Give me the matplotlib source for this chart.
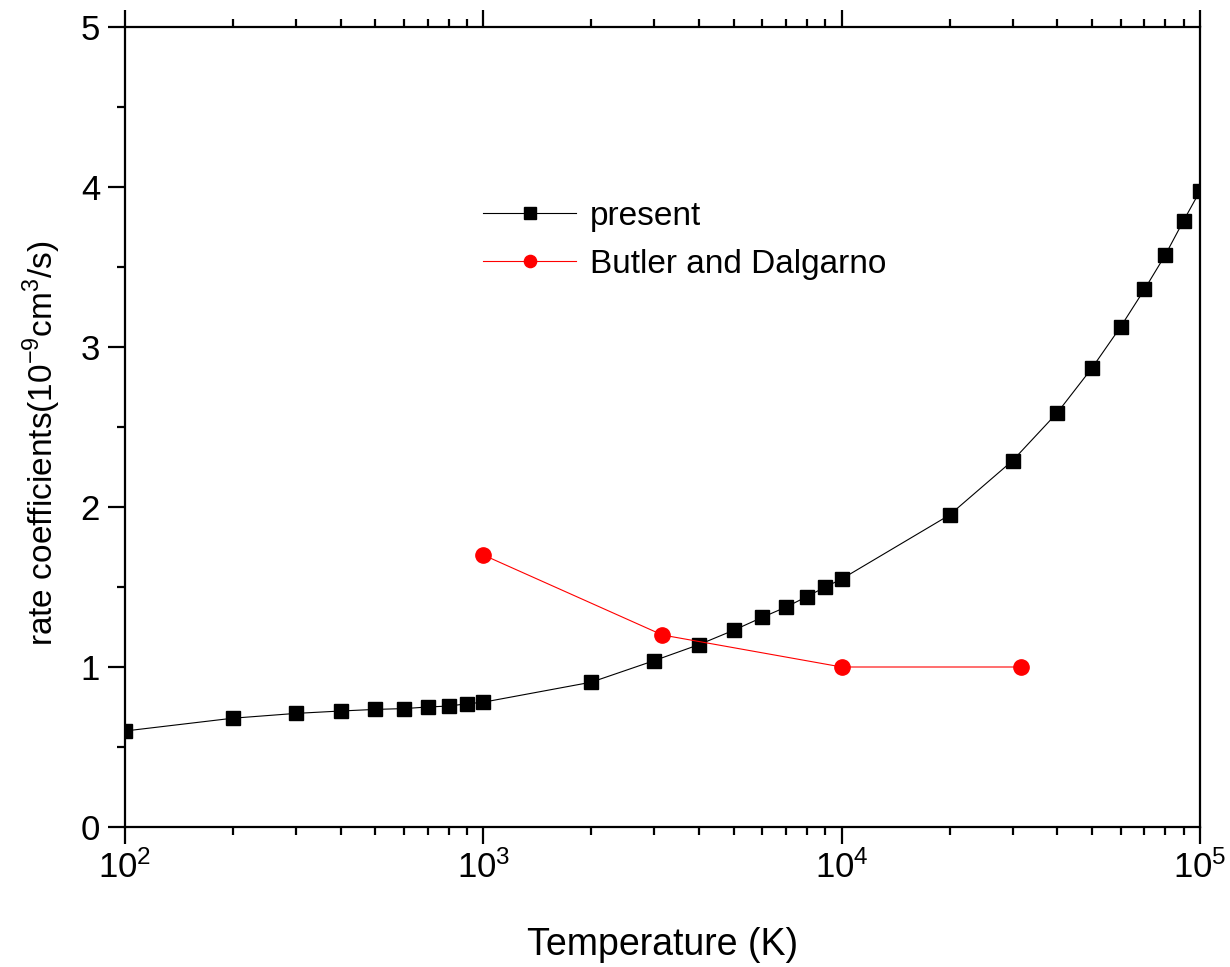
import matplotlib.pyplot as plt
from matplotlib.ticker import LogLocator, MultipleLocator, NullFormatter

plt.rcParams['font.family'] = ['Liberation Sans', 'DejaVu Sans']
plt.rcParams['mathtext.fontset'] = 'custom'
plt.rcParams['mathtext.rm'] = 'Liberation Sans'

# present calculation
temp_present = [100, 200, 300, 400, 500, 600, 700, 800, 900, 1000,
                2000, 3000, 4000, 5000, 6000, 7000, 8000, 9000, 10000,
                20000, 30000, 40000, 50000, 60000, 70000, 80000, 90000, 100000]
rate_present = [0.60, 0.68, 0.71, 0.725, 0.735, 0.74, 0.75, 0.756, 0.77, 0.78,
                0.905, 1.04, 1.14, 1.23, 1.31, 1.375, 1.44, 1.50, 1.55,
                1.95, 2.29, 2.59, 2.87, 3.125, 3.36, 3.575, 3.79, 3.975]

# Butler and Dalgarno
temp_bd = [1000, 3162, 10000, 31623]
rate_bd = [1.70, 1.20, 1.00, 1.00]

fig = plt.figure(figsize=(12.3, 9.67), dpi=100)
ax = fig.add_axes([125 / 1230, 1 - 827 / 967, 1075 / 1230, 800 / 967])

ax.plot(temp_present, rate_present, color='black', lw=0.8, marker='s',
        ms=10, label='present')
ax.plot(temp_bd, rate_bd, color='red', lw=0.8, marker='o',
        ms=11, label='Butler and Dalgarno')

ax.set_xscale('log')
ax.set_xlim(100, 100000)
ax.set_ylim(0, 5)
ax.xaxis.set_major_locator(LogLocator(base=10, numticks=10))
ax.xaxis.set_minor_locator(LogLocator(base=10, subs=range(2, 10), numticks=10))
ax.xaxis.set_minor_formatter(NullFormatter())
ax.yaxis.set_major_locator(MultipleLocator(1))
ax.yaxis.set_minor_locator(MultipleLocator(0.5))

for s in ax.spines.values():
    s.set_linewidth(1.6)

ax.tick_params(which='both', direction='out', top=True, right=False,
               labelsize=25, width=1.6)
ax.tick_params(which='major', length=12)
ax.tick_params(which='minor', length=6)
ax.tick_params(axis='x', which='major', pad=5)
ax.tick_params(axis='y', which='major', pad=6)

ax.set_xlabel('Temperature (K)', fontsize=27, labelpad=30)
ax.set_ylabel(r'rate coefficients(10$^{-9}$cm$^{3}$/s)', fontsize=24)
ax.yaxis.set_label_coords(-0.058, 0.48)

ax.legend(loc='upper left', bbox_to_anchor=(0.305, 0.82), frameon=False,
          fontsize=24, handlelength=2.8, numpoints=1, markerscale=0.8,
          labelspacing=0.5, handletextpad=0.4)

fig.savefig('out.png', dpi=100)
